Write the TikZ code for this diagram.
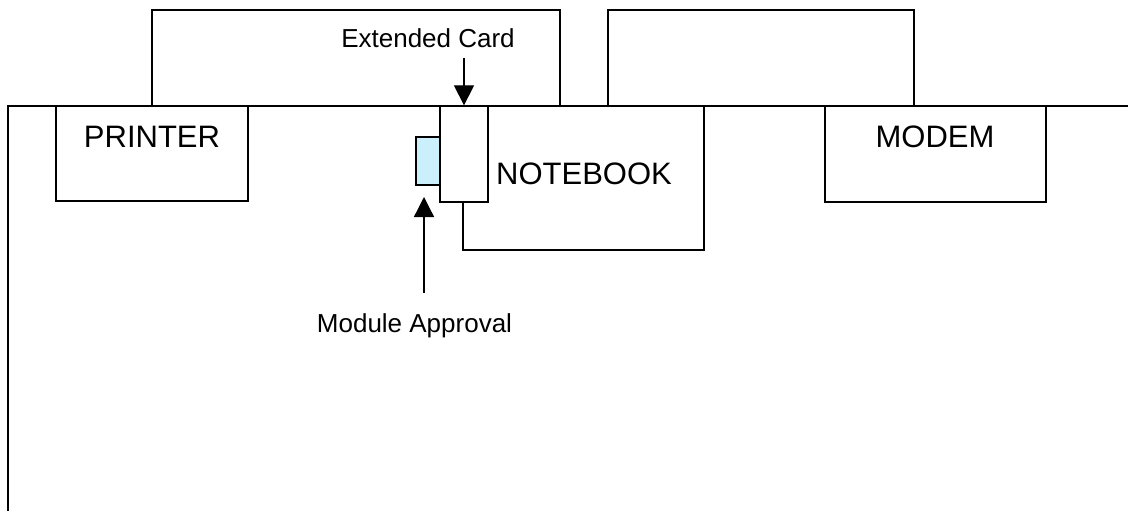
\documentclass[tikz,border=0pt]{standalone}
\usepackage{fontspec}
\setmainfont{Liberation Sans}
\usetikzlibrary{arrows.meta}
\begin{document}
\begin{tikzpicture}[x=1pt,y=-1pt,>={Triangle[length=20pt,width=20pt]},line width=1.3pt]
\useasboundingbox (0,0) rectangle (1128,511);
\begin{scope}

% back boxes
 \node[rectangle,draw,minimum width=408pt, minimum height=96pt] (b1) at (356,58) {} ;
 \node[rectangle,draw,minimum width=306pt, minimum height=96pt] (b2) at (761,58) {} ;

% table edge
 \coordinate (e1) at (8,511);
 \coordinate (e2) at (8,106);
 \coordinate (e3) at (1128,106);
 \draw (e1) -- (e2) -- (e3);

 \node[rectangle,draw,fill=white,minimum width=192pt, minimum height=95pt] (p1) at (152,153.5) {} ;
  \node (p1_d) at (152,137) {\fontsize{31}{36}\selectfont PRINTER};

 \node[rectangle,draw,fill=white,minimum width=241pt, minimum height=144pt] (p2) at (583.5,178) {} ;
  \node (p2_d) at (584,173.5) {\fontsize{31}{36}\selectfont NOTEBOOK};

 \node[rectangle,draw,fill=white,minimum width=221pt, minimum height=96pt] (p3) at (935.5,154) {} ;
  \node (p3_d) at (935,137) {\fontsize{31}{36}\selectfont MODEM};

% card and module
 \node[rectangle,draw,fill=white,minimum width=48pt, minimum height=96pt] (p4) at (464,154) {} ;
 \node[rectangle,draw,fill=cyan!20,minimum width=24pt, minimum height=48pt] (p5) at (428,161) {} ;

 \node (p4_d) at (428,38) {\fontsize{26}{30}\selectfont Extended Card};
 \coordinate (a1) at (464,58);
 \draw[->] (a1) -- (p4.north);

 \node (p5_d) at (414.5,326) {\fontsize{26}{30}\selectfont Module Approval};
 \coordinate (a2) at (424,293);
 \coordinate (a3) at (424,197);
 \draw[->] (a2) -- (a3);

  \end{scope}
\end{tikzpicture}
\end{document}
